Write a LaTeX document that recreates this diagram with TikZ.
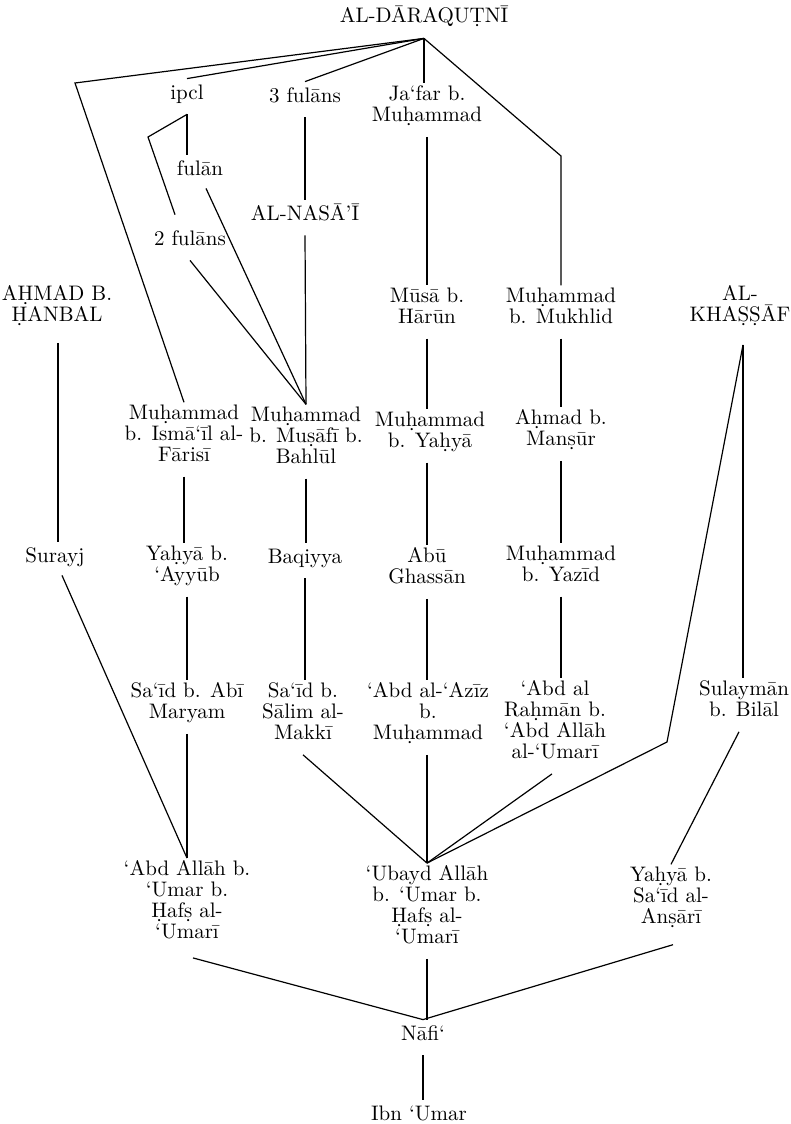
\documentclass[tikz,border=0pt]{standalone}
\usepackage{fontspec}
\usetikzlibrary{calc}
\lineskiplimit=-100pt
\begin{document}
\begin{tikzpicture}[x=0.5pt,y=-0.5pt,
  lbl/.style={align=center, inner xsep=0pt, inner ysep=1pt,
    font={\fontsize{10.5}{10.5}\selectfont\lineskiplimit=-100pt\relax},
    execute at begin node={\rule{0pt}{9pt}},
    execute at end node={\rule[-6.5pt]{0pt}{6.5pt}}},
  link/.style={line width=0.6pt, line join=miter}]
\useasboundingbox (0,0) rectangle (791,1124);

% nodes
\node[lbl] (dar) at (424,20.5) {AL-DĀRAQUṬNĪ};
\node[lbl] (ipcl) at (187,96.5) {ipcl};
\node[lbl] (f3) at (305,99.5) {3 fulāns};
\node[lbl] (jafar) at (427,110) {Ja‘far b.\\Muḥammad};
\node[lbl] (fulan) at (200,172.5) {fulān};
\node[lbl] (nasai) at (305,217.5) {AL-NASĀ’Ī};
\node[lbl] (f2) at (190,242.5) {2 fulāns};
\node[lbl] (hanbal) at (57,310) {AḤMAD B.\\ḤANBAL};
\node[lbl] (musa) at (427,312) {Mūsā b.\\Hārūn};
\node[lbl] (mukhlid) at (561,312) {Muḥammad\\b. Mukhlid};
\node[lbl] (khassaf) at (740,310) {AL-\\KHAṢṢĀF};
\node[lbl] (ismail) at (184,439.5) {Muḥammad\\b. Ismā‘īl al-\\Fārisī};
\node[lbl] (bahlul) at (306,441.5) {Muḥammad\\b. Muṣāfī b.\\Bahlūl};
\node[lbl] (yahya1) at (430,436) {Muḥammad\\b. Yaḥyā};
\node[lbl] (mansur) at (561,434) {Aḥmad b.\\Manṣūr};
\node[lbl] (surayj) at (55,559.5) {Surayj};
\node[lbl] (ayyub) at (187,570) {Yaḥyā b.\\‘Ayyūb};
\node[lbl] (baqiyya) at (305,560.5) {Baqiyya};
\node[lbl] (ghassan) at (427,572) {Abū\\Ghassān};
\node[lbl] (yazid) at (561,570) {Muḥammad\\b. Yazīd};
\node[lbl] (maryam) at (187,707) {Sa‘īd b. Abī\\Maryam};
\node[lbl] (salim) at (303,717.5) {Sa‘īd b.\\Sālim al-\\Makkī};
\node[lbl] (aziz) at (428,717.5) {‘Abd al-‘Azīz\\b.\\Muḥammad};
\node[lbl] (rahman) at (555,726) {‘Abd al\\Raḥmān b.\\‘Abd Allāh\\al-‘Umarī};
\node[lbl] (sulayman) at (744,705) {Sulaymān\\b. Bilāl};
\node[lbl] (abdallah) at (187,906) {‘Abd Allāh b.\\‘Umar b.\\Ḥafṣ al-\\‘Umarī};
\node[lbl] (ubayd) at (427,911) {‘Ubayd Allāh\\b. ‘Umar b.\\Ḥafṣ al-\\‘Umarī};
\node[lbl] (yahya2) at (671,901.5) {Yaḥyā b.\\Sa‘īd al-\\Anṣārī};
\node[lbl] (nafi) at (423,1037.5) {Nāfi‘};
\node[lbl] (ibn) at (419,1117.5) {Ibn ‘Umar};

% bend points
\coordinate (lc) at (75,83);
\coordinate (rc) at (561,156);
\coordinate (ic) at (148,137);
\coordinate (kc) at (667,742);
\coordinate (ka) at ($(khassaf.south)+(3,8)$);
\coordinate (hb) at ($(hanbal.south)+(1,6)$);

% connectors from al-Daraqutni
\draw[link] (dar.south) -- (lc) -- (ismail.north);
\draw[link] (dar.south) -- (ipcl.north);
\draw[link] (dar.south) -- (f3.north);
\draw[link] (dar.south) -- (dar.south |- jafar.north);
\draw[link] (dar.south) -- (rc) -- (mukhlid.north);
\draw[link] (ipcl.south) -- (ipcl.south |- fulan.north);
\draw[link] (ipcl.south) -- (ic) -- ($(f2.north)+(-15,-10)$);
\draw[link] ($(fulan.south)+(6,-2)$) -- (bahlul.north);
\draw[link] (f2.south) -- (bahlul.north);
\draw[link] (f3.south) -- (f3.south |- nasai.north);
\draw[link] (nasai.south) -- (bahlul.north);

% column of Ja'far
\draw[link] (jafar.south) -- (jafar.south |- musa.north);
\draw[link] (musa.south) -- (musa.south |- yahya1.north);
\draw[link] (musa.south |- yahya1.south) -- (musa.south |- ghassan.north);
\draw[link] (ghassan.south) -- (ghassan.south |- aziz.north);
\draw[link] (ghassan.south |- aziz.south) -- (ubayd.north);

% column of Mukhlid
\draw[link] (mukhlid.south) -- (mukhlid.south |- mansur.north);
\draw[link] (mansur.south) -- (mansur.south |- yazid.north);
\draw[link] (yazid.south) -- (yazid.south |- rahman.north);
\draw[link] ($(rahman.south)+(-3,0)$) -- (ubayd.north);

% Ibn Hanbal
\draw[link] (hb) -- (hb |- surayj.north);
\draw[link] ($(surayj.south)+(7,-2)$) -- (abdallah.north);

% column of Isma'il
\draw[link] (ismail.south) -- (ismail.south |- ayyub.north);
\draw[link] (ayyub.south) -- (ayyub.south |- maryam.north);
\draw[link] (maryam.south) -- (maryam.south |- abdallah.north);

% column of Bahlul
\draw[link] (bahlul.south) -- (bahlul.south |- baqiyya.north);
\draw[link] (baqiyya.south) -- (baqiyya.south |- salim.north);
\draw[link] (salim.south) -- (ubayd.north);

% al-Khassaf
\draw[link] (ka) -- (kc) -- (ubayd.north);
\draw[link] (ka) -- (ka |- sulayman.north);
\draw[link] ($(sulayman.south)+(-5,0)$) -- (yahya2.north);

% to Nafi'
\draw[link] ($(abdallah.south)+(6,4)$) -- (nafi.north);
\draw[link] (ubayd.south) -- (ubayd.south |- nafi.north);
\draw[link] ($(yahya2.south)+(2,6)$) -- (nafi.north);
\draw[link] (nafi.south) -- (nafi.south |- ibn.north);
\end{tikzpicture}
\end{document}
